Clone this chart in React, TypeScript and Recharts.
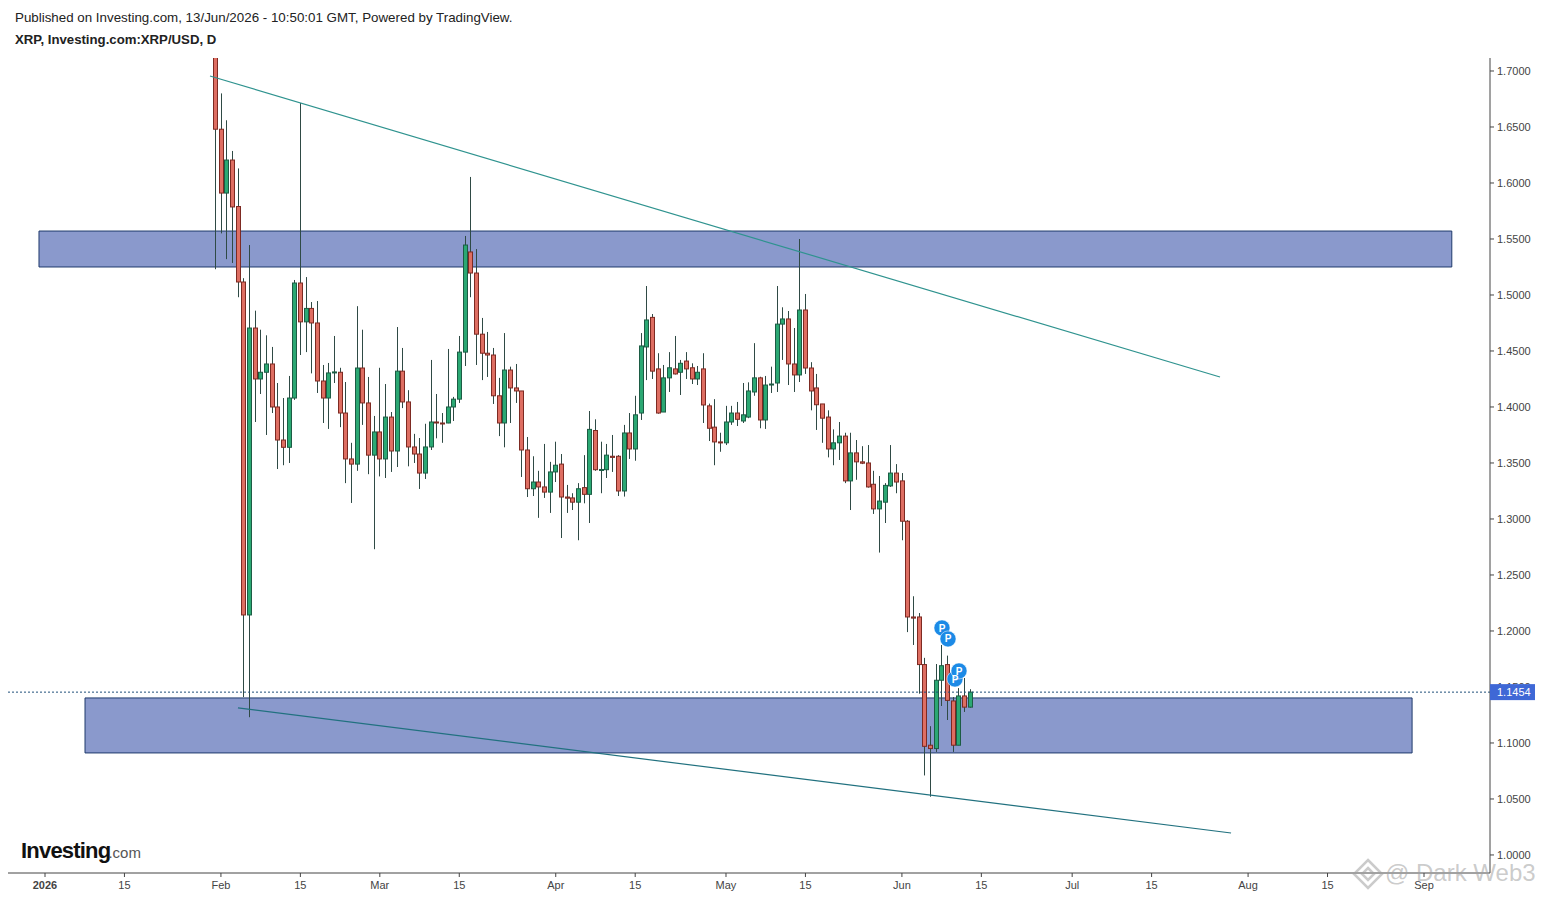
import React from 'react';
import { ComposedChart, Bar, XAxis, YAxis, ReferenceArea, ReferenceLine, ReferenceDot } from 'recharts';

const FONT = '"Liberation Sans", Arial, sans-serif';

// first candle is Jan 31 (day 30 counted from Jan 1)
const firstDay = 30;

const opens = [
    1.72, 1.648, 1.591, 1.6205, 1.579, 1.5116, 1.2143, 1.4705, 1.425, 1.431,
    1.4384, 1.40, 1.3705, 1.364, 1.408, 1.5107, 1.476, 1.488, 1.475, 1.4232,
    1.408, 1.4304, 1.431, 1.3946, 1.3536, 1.349, 1.4348, 1.4036, 1.357, 1.3777,
    1.3536, 1.391, 1.3607, 1.432, 1.4045, 1.3643, 1.358, 1.341, 1.3643, 1.3866,
    1.3857, 1.3857, 1.40, 1.407, 1.449, 1.5384, 1.5196, 1.465, 1.448, 1.4464,
    1.41, 1.3857, 1.433, 1.417, 1.4143, 1.3616, 1.327, 1.333, 1.3286, 1.324,
    1.342, 1.349, 1.3196, 1.3188, 1.315, 1.328, 1.322, 1.379, 1.344, 1.344,
    1.356, 1.356, 1.325, 1.3768, 1.3625, 1.3946, 1.4536, 1.48, 1.434, 1.3955,
    1.426, 1.434, 1.431, 1.441, 1.435, 1.425, 1.434, 1.401, 1.382, 1.3688,
    1.368, 1.3866, 1.3946, 1.3875, 1.391, 1.4134, 1.426, 1.3884, 1.4205, 1.4214,
    1.474, 1.4786, 1.4384, 1.4286, 1.4866, 1.4348, 1.417, 1.4027, 1.391, 1.3625,
    1.368, 1.374, 1.334, 1.359, 1.351, 1.35, 1.331, 1.309, 1.315, 1.3295,
    1.341, 1.334, 1.298, 1.2125, 1.2125, 1.17, 1.098, 1.095, 1.156, 1.17,
    1.1375, 1.098, 1.142, 1.132,
];

const closes = [
    1.648, 1.591, 1.6205, 1.5786, 1.5116, 1.2143, 1.4705, 1.425, 1.431, 1.4384,
    1.40, 1.3705, 1.364, 1.408, 1.5107, 1.476, 1.488, 1.475, 1.4232, 1.408,
    1.4304, 1.4313, 1.3946, 1.3536, 1.349, 1.4348, 1.4036, 1.357, 1.3777, 1.3536,
    1.391, 1.3607, 1.432, 1.4045, 1.3643, 1.358, 1.341, 1.3643, 1.3866, 1.3857,
    1.385, 1.40, 1.407, 1.449, 1.5446, 1.5196, 1.465, 1.448, 1.4464, 1.41,
    1.3857, 1.433, 1.417, 1.4143, 1.3616, 1.327, 1.333, 1.3286, 1.324, 1.342,
    1.348, 1.3196, 1.3186, 1.315, 1.327, 1.322, 1.38, 1.344, 1.3442, 1.357,
    1.355, 1.325, 1.3768, 1.3625, 1.393, 1.4545, 1.4777, 1.432, 1.3946, 1.426,
    1.435, 1.4295, 1.439, 1.434, 1.425, 1.431, 1.4018, 1.381, 1.3688, 1.368,
    1.3866, 1.3946, 1.389, 1.393, 1.4143, 1.426, 1.3884, 1.4196, 1.4205, 1.474,
    1.4786, 1.4384, 1.4286, 1.4866, 1.4348, 1.4143, 1.402, 1.39, 1.3625, 1.368,
    1.374, 1.334, 1.359, 1.351, 1.3498, 1.3286, 1.309, 1.316, 1.33, 1.341,
    1.333, 1.298, 1.2125, 1.2115, 1.17, 1.097, 1.095, 1.156, 1.169, 1.138,
    1.098, 1.142, 1.132, 1.1454,
];

const highs = [
    1.72, 1.68, 1.656, 1.6286, 1.613, 1.515, 1.5446, 1.486, 1.469, 1.464,
    1.4536, 1.4214, 1.408, 1.4277, 1.5134, 1.6714, 1.516, 1.4937, 1.4946, 1.4375,
    1.4393, 1.4634, 1.435, 1.4223, 1.368, 1.49, 1.469, 1.4268, 1.392, 1.435,
    1.4205, 1.3955, 1.4714, 1.4527, 1.415, 1.376, 1.3723, 1.385, 1.442, 1.4116,
    1.3946, 1.4518, 1.409, 1.4634, 1.5527, 1.6054, 1.541, 1.4795, 1.467, 1.4527,
    1.426, 1.466, 1.436, 1.4384, 1.4143, 1.3732, 1.356, 1.343, 1.367, 1.351,
    1.369, 1.358, 1.3304, 1.323, 1.332, 1.357, 1.3964, 1.389, 1.369, 1.367,
    1.375, 1.357, 1.384, 1.3946, 1.41, 1.466, 1.508, 1.483, 1.448, 1.4375,
    1.449, 1.4634, 1.442, 1.449, 1.439, 1.4366, 1.448, 1.403, 1.407, 1.377,
    1.401, 1.401, 1.4045, 1.4214, 1.422, 1.457, 1.427, 1.4277, 1.436, 1.508,
    1.489, 1.4857, 1.4705, 1.55, 1.5009, 1.44, 1.4295, 1.4027, 1.397, 1.38,
    1.3866, 1.377, 1.377, 1.3705, 1.365, 1.366, 1.343, 1.3384, 1.332, 1.366,
    1.349, 1.341, 1.299, 1.231, 1.216, 1.176, 1.115, 1.1705, 1.1875, 1.178,
    1.141, 1.149, 1.158, 1.148,
];

const lows = [
    1.523, 1.555, 1.532, 1.5286, 1.498, 1.141, 1.123, 1.3866, 1.4116, 1.375,
    1.3946, 1.3446, 1.348, 1.35, 1.4063, 1.4464, 1.449, 1.43, 1.4125, 1.3857,
    1.3804, 1.4214, 1.382, 1.332, 1.3143, 1.343, 1.384, 1.34, 1.273, 1.338,
    1.3366, 1.342, 1.3464, 1.399, 1.347, 1.35, 1.3268, 1.3357, 1.3616, 1.372,
    1.368, 1.3855, 1.3875, 1.4036, 1.4366, 1.498, 1.4375, 1.424, 1.4268, 1.4027,
    1.374, 1.364, 1.3857, 1.4036, 1.3375, 1.3196, 1.3205, 1.301, 1.3188, 1.3054,
    1.333, 1.283, 1.3054, 1.308, 1.281, 1.314, 1.2964, 1.343, 1.323, 1.3366,
    1.342, 1.3205, 1.32, 1.3536, 1.352, 1.3884, 1.424, 1.425, 1.394, 1.3955,
    1.4134, 1.429, 1.4107, 1.425, 1.4205, 1.4196, 1.3857, 1.3696, 1.348, 1.36,
    1.366, 1.384, 1.383, 1.3857, 1.39, 1.41, 1.381, 1.3804, 1.4125, 1.4134,
    1.442, 1.4196, 1.4134, 1.4223, 1.4295, 1.397, 1.3795, 1.368, 1.355, 1.348,
    1.3527, 1.332, 1.308, 1.335, 1.349, 1.328, 1.3045, 1.27, 1.2964, 1.3286,
    1.323, 1.281, 1.199, 1.1875, 1.144, 1.071, 1.052, 1.092, 1.133, 1.1205,
    1.092, 1.098, 1.1277, 1.1315,
];

const lastPrice = 1.1454;

// lastPrice goes last so its tag is drawn over the 1.1500 label, like on the site
const priceTicks = [1.0, 1.05, 1.1, 1.15, 1.2, 1.25, 1.3, 1.35, 1.4, 1.45, 1.5, 1.55, 1.6, 1.65, 1.7, lastPrice];
const dayTicks = [0, 14, 31, 45, 59, 73, 90, 104, 120, 134, 151, 165, 181, 195, 212, 226, 243];
const dayLabels = ['2026', '15', 'Feb', '15', 'Mar', '15', 'Apr', '15', 'May', '15', 'Jun', '15', 'Jul', '15', 'Aug', '15', 'Sep'];

const upperZone = { x1: -1.06, x2: 247.9, y1: 1.525, y2: 1.5571 };
const lowerZone = { x1: 7.05, x2: 240.9, y1: 1.0911, y2: 1.1402 };

const upperTrend = [{ x: 29.07, y: 1.6955 }, { x: 207.05, y: 1.4268 }];
const lowerTrend = [{ x: 34.0, y: 1.1313 }, { x: 209.0, y: 1.0196 }];

const markers = [
    { x: 158.06, y: 1.2027 },
    { x: 159.12, y: 1.1929 },
    { x: 160.35, y: 1.1571 },
    { x: 161.06, y: 1.1643 },
];

const data = opens.map((open, i) => ({
    day: firstDay + i,
    open,
    close: closes[i],
    high: highs[i],
    low: lows[i],
}));

const Candle = (props: any) => {
    const { x, y, width, height, payload } = props;
    const { open, close, high, low } = payload;
    const cx = Math.round(x + width / 2) + 0.5;
    const perUnit = height / (high - low);
    const top = y + (high - Math.max(open, close)) * perUnit;
    const bodyH = Math.max(Math.abs(open - close) * perUnit, 1);
    const up = close >= open;
    return (
        <g>
            <line x1={cx} x2={cx} y1={y} y2={y + height} stroke="#2f4a45" strokeWidth={1} />
            <rect
                x={cx - 2}
                y={top}
                width={4}
                height={bodyH}
                fill={up ? '#2ba873' : '#de6e62'}
                stroke={up ? '#1c5c44' : '#7d2a22'}
                strokeWidth={1}
            />
        </g>
    );
};

const DayTick = (props: any) => {
    const { x, y, payload, index } = props;
    const first = payload.value === 0;
    return (
        <text x={x} y={y + 10} textAnchor="middle" fontFamily={FONT} fontSize={11} fontWeight={first ? 700 : 400} fill="#444">
            {dayLabels[index]}
        </text>
    );
};

const PriceTick = (props: any) => {
    const { x, y, payload } = props;
    const isLast = payload.value === lastPrice;
    return (
        <g>
            {isLast && <rect x={x - 6} y={y - 8} width={45} height={16} fill="#3f68d6" />}
            <text x={x + 1} y={y + 4} fontFamily={FONT} fontSize={11} fill={isLast ? '#fff' : '#444'}>
                {payload.value.toFixed(4)}
            </text>
        </g>
    );
};

const App = () => {
    return (
        <div style={{ position: 'absolute', left: 0, top: 0, width: 1542, height: 898, background: '#fff', overflow: 'hidden' }}>
            <ComposedChart
                width={1542}
                height={898}
                data={data}
                margin={{ top: 58, right: 0, bottom: 0, left: 8 }}
            >
                <XAxis
                    dataKey="day"
                    type="number"
                    domain={[-6.52, 254.63]}
                    ticks={dayTicks}
                    allowDataOverflow
                    height={25}
                    interval={0}
                    tick={<DayTick />}
                    tickSize={4}
                    stroke="#444"
                />
                <YAxis
                    orientation="right"
                    type="number"
                    domain={[0.9839, 1.7116]}
                    ticks={priceTicks}
                    allowDataOverflow
                    width={52}
                    interval={0}
                    tickSize={4}
                    tick={<PriceTick />}
                    stroke="#444"
                />
                <ReferenceArea {...upperZone} fill="#8a99cc" fillOpacity={1} stroke="#1f3a6b" strokeWidth={1} />
                <ReferenceArea {...lowerZone} fill="#8a99cc" fillOpacity={1} stroke="#1f3a6b" strokeWidth={1} />
                <Bar dataKey={(d: any) => [d.low, d.high]} barSize={5} shape={<Candle />} isAnimationActive={false} />
                <ReferenceLine segment={upperTrend} stroke="#2f938f" strokeWidth={1.2} />
                <ReferenceLine segment={lowerTrend} stroke="#21717f" strokeWidth={1.2} />
                <ReferenceLine y={lastPrice} stroke="#1f4e79" strokeWidth={1} strokeDasharray="2 2" />
                {markers.map((m, i) => (
                    <ReferenceDot
                        key={i}
                        x={m.x}
                        y={m.y}
                        r={8}
                        fill="#1c8ae6"
                        stroke="#fff"
                        strokeWidth={0.5}
                        label={{ value: 'P', position: 'center', fill: '#fff', fontSize: 10, fontWeight: 700, fontFamily: FONT }}
                    />
                ))}
            </ComposedChart>

            <div style={{ position: 'absolute', left: 15, top: 10, fontFamily: FONT, fontSize: 13.35, color: '#222', whiteSpace: 'nowrap' }}>
                Published on Investing.com, 13/Jun/2026 - 10:50:01 GMT, Powered by TradingView.
            </div>
            <div style={{ position: 'absolute', left: 15, top: 32, fontFamily: FONT, fontSize: 13.2, fontWeight: 700, color: '#222', whiteSpace: 'nowrap' }}>
                XRP, Investing.com:XRP/USD, D
            </div>
            <div style={{ position: 'absolute', left: 21, top: 838, fontFamily: FONT, whiteSpace: 'nowrap', color: '#111', fontSize: 22, fontWeight: 700, letterSpacing: -0.8 }}>
                Investing<span style={{ fontSize: 15, fontWeight: 400, color: '#555', letterSpacing: 0, marginLeft: -2 }}>.com</span>
            </div>
            <div style={{ position: 'absolute', left: 1385, top: 859, fontFamily: FONT, whiteSpace: 'nowrap', color: 'rgba(160,160,160,0.55)', fontSize: 24 }}>
                @ Dark Web3
            </div>
            <svg style={{ position: 'absolute', left: 1352, top: 858 }} width={32} height={32}>
                <path d="M16 2 L30 16 L16 30 L2 16 Z M16 10 L22 16 L16 22 L10 16 Z" fill="none" stroke="rgba(160,160,160,0.55)" strokeWidth={2.5} />
            </svg>
        </div>
    );
};

export default App;
